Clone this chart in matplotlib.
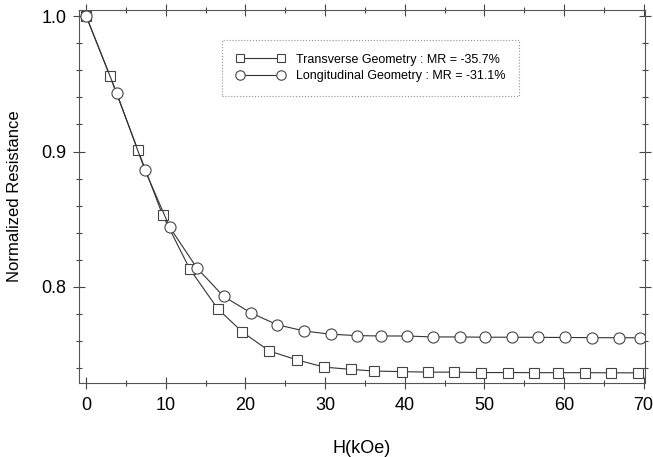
import matplotlib
matplotlib.use("Agg")
import matplotlib.pyplot as plt
from matplotlib.ticker import MultipleLocator, FormatStrFormatter

plt.rcParams['font.family'] = ['Liberation Sans', 'DejaVu Sans']

# transverse geometry (squares)
h_trans = [0, 3.0, 6.5, 9.6, 13.0, 16.5, 19.6, 23.0, 26.5, 29.9, 33.3, 36.2,
           39.6, 42.9, 46.25, 49.6, 53.0, 56.3, 59.2, 62.6, 65.9, 69.3]
r_trans = [1.0, 0.9556, 0.901, 0.853, 0.8133, 0.784, 0.7667, 0.7526, 0.746,
           0.7407, 0.739, 0.7378, 0.7374, 0.737, 0.737, 0.7367, 0.7367, 0.7366,
           0.7366, 0.7366, 0.7365, 0.7365]

# longitudinal geometry (circles)
h_long = [0, 3.85, 7.4, 10.5, 13.9, 17.25, 20.7, 24.0, 27.4, 30.7, 34.0, 37.0,
          40.25, 43.5, 46.9, 50.1, 53.5, 56.8, 60.1, 63.5, 66.9, 69.5]
r_long = [1.0, 0.943, 0.886, 0.844, 0.814, 0.793, 0.7807, 0.772, 0.7674, 0.765,
          0.764, 0.7637, 0.7637, 0.763, 0.763, 0.7628, 0.7628, 0.7627, 0.7626,
          0.7625, 0.7624, 0.7624]

fig = plt.figure(figsize=(6.53, 4.57), dpi=100)
ax = fig.add_axes([0.121, 0.162, 0.867, 0.816])

ax.plot(h_trans, r_trans, color='#333333', lw=0.8, marker='s', ms=7,
        mfc='white', mec='#444444', mew=0.8,
        label='Transverse Geometry : MR = -35.7%')
ax.plot(h_long, r_long, color='#333333', lw=0.8, marker='o', ms=8,
        mfc='white', mec='#444444', mew=0.8,
        label='Longitudinal Geometry : MR = -31.1%')

ax.set_xlim(-0.9, 70.2)
ax.set_ylim(0.729, 1.0045)
ax.xaxis.set_major_locator(MultipleLocator(10))
ax.xaxis.set_minor_locator(MultipleLocator(5))
ax.yaxis.set_major_locator(MultipleLocator(0.1))
ax.yaxis.set_minor_locator(MultipleLocator(0.02))
ax.yaxis.set_major_formatter(FormatStrFormatter('%.1f'))
ax.tick_params(which='both', direction='inout', top=True, right=True,
               labelsize=13, width=0.8, color='#444444')
ax.tick_params(axis='x', pad=6)
ax.tick_params(axis='y', pad=5)
ax.tick_params(which='major', length=8)
ax.tick_params(which='minor', length=5)
for s in ax.spines.values():
    s.set_linewidth(0.8)
    s.set_color('#555555')

ax.set_xlabel('H(kOe)', fontsize=13, labelpad=19)
ax.set_ylabel('Normalized Resistance', fontsize=12, labelpad=14)

leg = ax.legend(loc='upper left', bbox_to_anchor=(0.2527, 0.92), numpoints=2,
                fontsize=9, frameon=True, fancybox=False, handlelength=3.9,
                handletextpad=0.9, borderpad=1.1, labelspacing=0.35,
                borderaxespad=0, markerscale=0.85)
leg.get_frame().set_edgecolor('#777777')
leg.get_frame().set_linestyle(':')
leg.get_frame().set_linewidth(0.8)

fig.savefig('out.png', dpi=100)
